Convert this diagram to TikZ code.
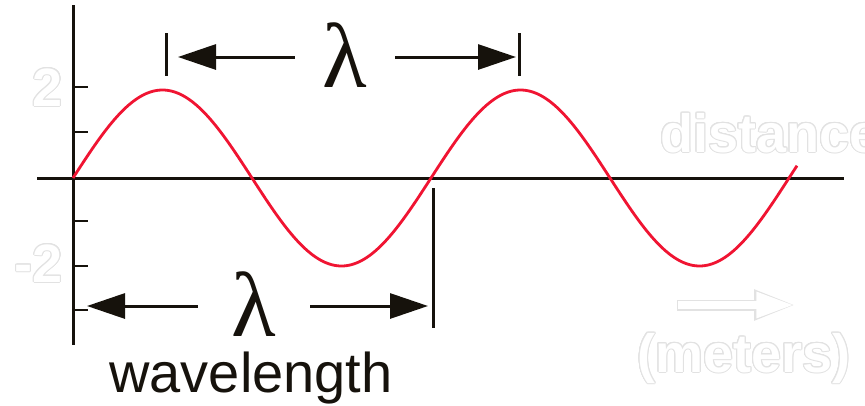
\documentclass[tikz,border=0pt]{standalone}
\usepackage{fontspec}
\setmainfont{Liberation Sans}
\newfontfamily\lamfont{Liberation Serif}
\usepackage[copies]{contour}
\usetikzlibrary{arrows.meta}
\definecolor{wavered}{RGB}{240,20,50}
\definecolor{axisblk}{RGB}{22,18,12}
\definecolor{ghost}{RGB}{226,226,226}
\contourlength{1pt}
\begin{document}
\begin{tikzpicture}[x=1pt,y=-1pt,
  axis/.style={line width=3pt,axisblk},
  tickmark/.style={line width=2.6pt,axisblk},
  dimbar/.style={line width=3pt,axisblk},
  dimarrow/.style={line width=3pt,axisblk,-{Triangle[length=38pt,width=25pt]}},
  lam/.style={font=\lamfont\fontsize{92}{92}\selectfont, inner sep=0pt, text height=60pt, text depth=0pt, text=axisblk},
  ghosttext/.style={font=\bfseries\fontsize{54}{54}\selectfont, inner sep=0pt, text=white},
  wave/.style={wavered, line width=2.8pt}
]
\useasboundingbox (0,0) rectangle (865,405);
\fill[white] (0,0) rectangle (865,405);

% ghost labels
\node[ghosttext, anchor=base east] (gtwo) at (63,106) {\contour{ghost}{2}};
\node[ghosttext, anchor=base east] (gmtwo) at (63,282) {\contour{ghost}{-2}};
\node[ghosttext, anchor=base west] (gdist) at (660,152) {\contour{ghost}{distance}};
\node[ghosttext, anchor=base west] (gmet) at (637,372) {\contour{ghost}{(meters)}};
\coordinate (ga) at (677,305);
\coordinate (gb) at (796,305);
\draw[ghost, line width=11pt, -{Triangle[length=42pt,width=28pt]}] (ga) -- (gb);
\draw[white, line width=8.5pt, shorten <=1.2pt, shorten >=1.6pt, -{Triangle[length=38pt,width=24pt]}] (ga) -- (gb);

% axes
\draw[axis] (73,5) -- (73,345);
\draw[axis] (37,178) -- (844,178);
\foreach \yy in {87,132,221,266,310} \draw[tickmark] (73,\yy) -- (88,\yy);

% wave
\draw[wave] plot[domain=0:724, samples=300] ({73+\x}, {178-88*sin(\x*1.005587)});

% top dimension
\draw[dimbar] (166,33) -- (166,76);
\draw[dimbar] (519,33) -- (519,76);
\node[lam, minimum width=100pt] (lamtop) at (345,57) {λ};
\coordinate (ttl) at (178,57);
\coordinate (ttr) at (516,57);
\draw[dimarrow] (lamtop.west) -- (ttl);
\draw[dimarrow] (lamtop.east) -- (ttr);

% bottom dimension
\draw[dimbar] (433,188) -- (433,328);
\node[lam, minimum width=112pt] (lambot) at (254,306) {λ};
\coordinate (bbl) at (87,306);
\coordinate (bbr) at (428,306);
\draw[dimarrow] (lambot.west) -- (bbl);
\draw[dimarrow] (lambot.east) -- (bbr);

\node[font=\fontsize{56}{56}\selectfont, anchor=base, inner sep=0pt, text=axisblk] (wl) at (251,392) {wavelength};
\end{tikzpicture}
\end{document}
